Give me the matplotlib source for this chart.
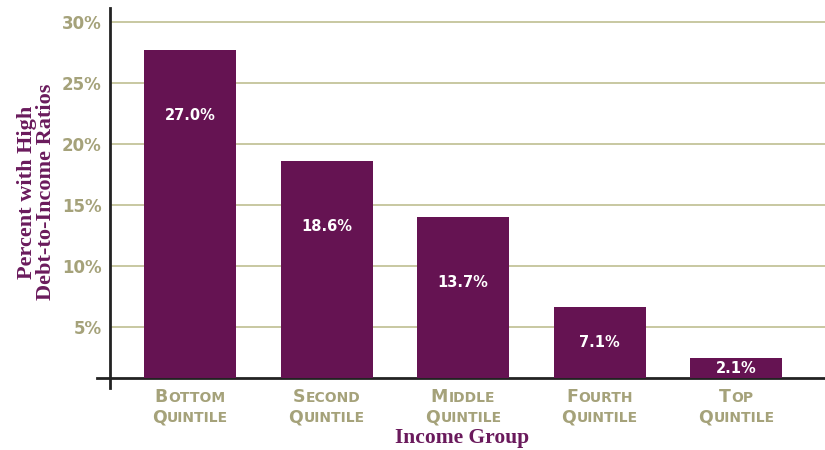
import matplotlib
matplotlib.use("Agg")
import matplotlib.pyplot as plt
from matplotlib.offsetbox import TextArea, HPacker, VPacker, AnnotationBbox

# data (bar heights as drawn, labels as printed)
groups = [("Bottom", "Quintile"), ("Second", "Quintile"), ("Middle", "Quintile"),
          ("Fourth", "Quintile"), ("Top", "Quintile")]
heights = [27.7, 18.6, 14.0, 6.6, 2.4]
labels = ["27.0%", "18.6%", "13.7%", "7.1%", "2.1%"]
yticks = [5, 10, 15, 20, 25, 30]

bar_color = "#651352"
grid_color = "#c4c49a"
tick_color = "#a5a27a"
title_color = "#6a1a5c"
base = 0.8

fig = plt.figure(figsize=(8.25, 4.5), dpi=100)
ax = fig.add_axes([0.1333, 0.16, 0.8667, 0.822])

x = list(range(len(heights)))
ax.bar(x, [h - base for h in heights], bottom=base, width=0.674, color=bar_color, zorder=3)

for xi, h, lab in zip(x, heights, labels):
    ly = h - 5.4 if h > 12 else (h + base) / 2
    ax.text(xi, ly, lab, color="white", ha="center", va="center",
            fontsize=10.5, weight="bold", family="DejaVu Sans", zorder=4)

ax.set_xlim(-0.586, 4.65)
ax.set_ylim(base, 31.1)
ax.set_yticks(yticks)
ax.set_yticklabels([f"{t}%" for t in yticks], color=tick_color, fontsize=12, weight="bold")
ax.tick_params(axis="y", length=0, pad=6)
ax.tick_params(axis="x", length=0, labelbottom=False)
ax.grid(axis="y", color=grid_color, linewidth=1.3, zorder=0)

for s in ["top", "right"]:
    ax.spines[s].set_visible(False)
ax.spines["left"].set_linewidth(2)
ax.spines["bottom"].set_linewidth(2)
ax.spines["left"].set_color("#222222")
ax.spines["bottom"].set_color("#222222")
# small extensions of the axis lines past the corner
ax.plot([-0.586 - 13 / 136.6, -0.586], [base, base], color="#222222", lw=2, clip_on=False)
ax.plot([-0.586, -0.586], [base - 0.8, base], color="#222222", lw=2, clip_on=False)

# small-caps style category labels
def smallcaps(word):
    first = TextArea(word[0].upper(), textprops=dict(color=tick_color, fontsize=12.5, weight="bold"))
    rest = TextArea(word[1:].upper(), textprops=dict(color=tick_color, fontsize=10, weight="bold"))
    return HPacker(children=[first, rest], align="baseline", pad=0, sep=0.5)

for xi, (w1, w2) in zip(x, groups):
    box = VPacker(children=[smallcaps(w1), smallcaps(w2)], align="center", pad=0, sep=2)
    ab = AnnotationBbox(box, (xi, base), xybox=(0, -7), xycoords="data",
                        boxcoords="offset points", box_alignment=(0.5, 1), frameon=False)
    ax.add_artist(ab)

fig.text(0.56, 0.027, "Income Group", color=title_color, fontsize=15.5, weight="bold",
         family="Liberation Serif", ha="center", va="center")
fig.text(0.044, 0.573, "Percent with High\nDebt-to-Income Ratios", color=title_color,
         fontsize=16, weight="bold", family="Liberation Serif", rotation=90,
         ha="center", va="center", linespacing=0.95)

fig.savefig("out.png", dpi=100)
